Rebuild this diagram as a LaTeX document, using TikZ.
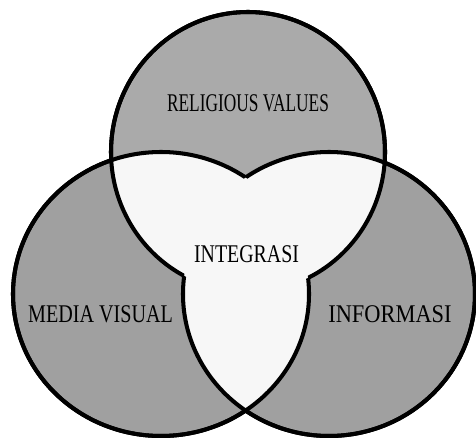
\documentclass[tikz,border=0pt]{standalone}
\usepackage{xcolor}
\usepackage{fontspec}
\usepackage{tikz}
\newfontfamily\vennfont{Liberation Serif}
\definecolor{setTop}{HTML}{AAAAAA}
\definecolor{setSide}{HTML}{A0A0A0}
\definecolor{setCore}{HTML}{F7F7F7}

% the three sets, and the plane with each one cut out
\newcommand{\topdisc}{(248,285) ellipse [x radius=137, y radius=140]}
\newcommand{\leftdisc}{(161,143) ellipse [x radius=148, y radius=142]}
\newcommand{\rightdisc}{(329,143) ellipse [x radius=146, y radius=142]}
\newcommand{\outerframe}{(-30,-30) -- (510,-30) -- (510,470) -- (-30,470) -- cycle}
\newcommand{\nottop}{\outerframe (385,285) arc [start angle=0, end angle=-360, x radius=137, y radius=140]}
\newcommand{\notleft}{\outerframe (309,143) arc [start angle=0, end angle=-360, x radius=148, y radius=142]}
\newcommand{\notright}{\outerframe (475,143) arc [start angle=0, end angle=-360, x radius=146, y radius=142]}

\begin{document}
\begin{tikzpicture}[
    x=0.02cm, y=0.02cm,
    ring/.style={draw=black, line width=2.3pt},
    setname/.style={font=\vennfont\fontsize{14.5}{17}\selectfont,
                    inner sep=0pt, anchor=base},
]
\useasboundingbox (0,0) rectangle (476,437);

% ── Discs ──
\fill[setTop]  \topdisc;
\fill[setSide] \leftdisc;
\fill[setSide] \rightdisc;

% ── Overlaps ──
\begin{scope}
    \clip \topdisc;
    \fill[setCore] \leftdisc;
    \fill[setCore] \rightdisc;
\end{scope}
\begin{scope}
    \clip \leftdisc;
    \fill[setCore] \rightdisc;
\end{scope}

% ── Outlines, left out where two other sets overlap ──
\begin{scope}[even odd rule]
    \clip \notleft;
    \draw[ring] \topdisc;
    \draw[ring] \rightdisc;
\end{scope}
\begin{scope}[even odd rule]
    \clip \notright;
    \draw[ring] \topdisc;
    \draw[ring] \leftdisc;
\end{scope}
\begin{scope}[even odd rule]
    \clip \nottop;
    \draw[ring] \leftdisc;
    \draw[ring] \rightdisc;
\end{scope}

% ── Labels ──
\node[setname, xscale=0.68] (relig) at (248,326) {RELIGIOUS VALUES};
\node[setname, xscale=0.78] (integ) at (246.5,175) {INTEGRASI};
\node[setname, xscale=0.79] (media) at (100.5,115) {MEDIA VISUAL};
\node[setname, xscale=0.88] (info) at (390,115) {INFORMASI};
\end{tikzpicture}
\end{document}
